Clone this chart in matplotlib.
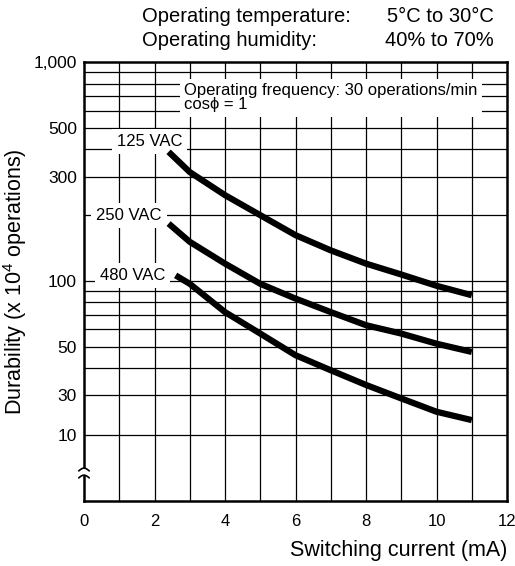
import matplotlib
matplotlib.use("Agg")
import matplotlib.pyplot as plt
import numpy as np

plt.rcParams['font.family'] = ['Liberation Sans', 'DejaVu Sans']
plt.rcParams['mathtext.default'] = 'regular'

# data
x_125 = [2.4, 3.0, 4.0, 5.0, 6.0, 7.0, 8.0, 9.0, 10.0, 11.0]
y_125 = [390, 315, 247, 200, 162, 138, 120, 107, 95, 86]
x_250 = [2.4, 3.0, 4.0, 5.0, 6.0, 7.0, 8.0, 9.0, 10.0, 11.0]
y_250 = [183, 151, 120, 97, 83, 72, 62.7, 57.4, 51.6, 47.3]
x_480 = [2.6, 3.0, 4.0, 5.0, 6.0, 7.0, 8.0, 9.0, 10.0, 11.0]
y_480 = [106, 97, 72, 57.4, 45.7, 39, 33.4, 27.4, 19, 15.1]

series_labels = ["125 VAC", "250 VAC", "480 VAC"]
label_pos = [(1.86, 435), (1.28, 200), (1.38, 106)]

y_ticks = [10, 30, 50, 100, 300, 500, 1000]
y_tick_labels = ["10", "30", "50", "100", "300", "500", "1,000"]
x_ticks = [0, 2, 4, 6, 8, 10, 12]
h_grid = [900, 800, 700, 600, 500, 400, 300, 200, 100, 90, 80, 70, 60, 50, 40, 30, 10]

# broken log axis: 10 sits just below 30, log spacing from 30 up to 1000
knot_log = np.array([0, 1, np.log10(30), 3])
knot_h = np.array([0, 66, 106, 439])


def fwd(v):
    v = np.clip(np.asarray(v, dtype=float), 1e-3, None)
    return np.interp(np.log10(v), knot_log, knot_h)


def inv(h):
    return 10 ** np.interp(np.asarray(h, dtype=float), knot_h, knot_log)


fig = plt.figure(figsize=(5.15, 5.66), dpi=100)
ax = fig.add_axes([0.1631, 0.1148, 0.8214, 0.7748])
ax.set_yscale('function', functions=(fwd, inv))
ax.set_xlim(0, 12)
ax.set_ylim(1, 1000)

# grid
for v in h_grid:
    ax.axhline(v, color='black', lw=0.9, zorder=1)
for v in range(1, 12):
    ax.axvline(v, color='black', lw=0.9, zorder=1)

for s in ax.spines.values():
    s.set_linewidth(1.8)

# curves
for xs, ys in [(x_125, y_125), (x_250, y_250), (x_480, y_480)]:
    ax.plot(xs, ys, color='black', lw=4.5, solid_capstyle='butt', zorder=4)

for lab, (lx, ly) in zip(series_labels, label_pos):
    ax.text(lx, ly, lab, ha='center', va='center', fontsize=12, zorder=3,
            bbox=dict(facecolor='white', edgecolor='none', boxstyle='square,pad=0.3'))

ax.text(2.85, 690, "Operating frequency: 30 operations/min\ncos\u03d5 = 1", ha='left', va='center',
        fontsize=12, linespacing=0.95, zorder=3,
        bbox=dict(facecolor='white', edgecolor='none', boxstyle='square,pad=0.25'))

ax.set_yticks(y_ticks)
ax.set_yticklabels(y_tick_labels)
ax.set_xticks(x_ticks)
ax.tick_params(length=0, labelsize=12.5, colors='black')
ax.tick_params(axis='x', pad=9, labelsize=12)
ax.tick_params(axis='y', pad=5)
ax.minorticks_off()

ax.set_xlabel("Switching current (mA)", fontsize=15.5, loc='right', labelpad=8)
ax.set_ylabel("Durability (x 10$^{4}$ operations)", fontsize=15.5)
ax.yaxis.set_label_coords(-0.162, 0.5)
ax.yaxis.label.set_verticalalignment('center')

# axis break mark on the left spine
bx = np.linspace(-0.012, 0.012, 30)
yb = 0.064
ax.add_patch(plt.Rectangle((-0.01, yb - 0.008), 0.02, 0.016, transform=ax.transAxes,
                           facecolor='white', edgecolor='none', clip_on=False, zorder=5))
for off in (-0.008, 0.008):
    ax.plot(bx, yb + off + 0.006 * np.sin(bx / 0.012 * np.pi / 2 + np.pi / 2) - 0.003,
            transform=ax.transAxes, color='black', lw=1.2, clip_on=False, zorder=6)

# header
fig.text(142 / 515, 1 - 16 / 566, "Operating temperature:", fontsize=14.5, ha='left', va='center')
fig.text(494 / 515, 1 - 16 / 566, "5\u00b0C to 30\u00b0C", fontsize=14.5, ha='right', va='center')
fig.text(142 / 515, 1 - 41 / 566, "Operating humidity:", fontsize=14.5, ha='left', va='center')
fig.text(494 / 515, 1 - 41 / 566, "40% to 70%", fontsize=14.5, ha='right', va='center')

fig.savefig("out.png", dpi=100)
